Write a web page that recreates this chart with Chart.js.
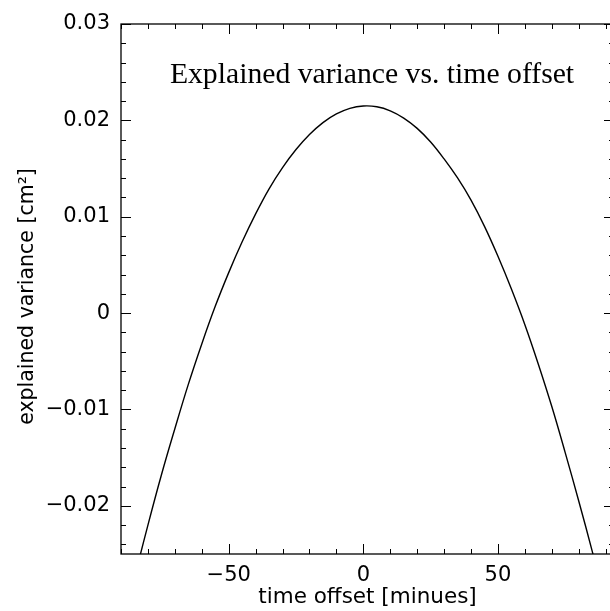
<!DOCTYPE html>
<html>
<head>
<meta charset="utf-8">
<script src="https://cdn.jsdelivr.net/npm/chart.js@4.4.0/dist/chart.umd.min.js"></script>
<style>
html, body { margin: 0; padding: 0; background: #fff; overflow: hidden; }
</style>
</head>
<body>
<canvas id="chart" width="615" height="611"></canvas>
<script>
// time offset [minutes] and explained variance [cm^2]
var offsets = [-90, -85, -80, -75, -70, -65, -60, -55, -50, -45, -40, -35, -30, -25, -20, -15, -10, -5,
               0, 5, 10, 15, 20, 25, 30, 35, 40, 45, 50, 55, 60, 65, 70, 75, 80, 85, 90];
var variance = [-0.0334, -0.0275, -0.0220, -0.0168, -0.0120, -0.0074, -0.0032, 0.0007, 0.0042, 0.0074,
                0.0103, 0.0129, 0.0151, 0.01697, 0.01853, 0.01977, 0.02067, 0.02125,
                0.02149, 0.02141, 0.02099, 0.02024, 0.01917, 0.01776, 0.0160, 0.01402, 0.01172, 0.0090,
                0.0059, 0.0025, -0.0012, -0.0053, -0.0097, -0.0145, -0.0195, -0.0247, -0.0302];

// ticks (all of them get a tick mark, only the majors get a label)
var xTicks = [-90, -80, -70, -60, -50, -40, -30, -20, -10, 0, 10, 20, 30, 40, 50, 60, 70, 80, 90];
var xMajor = [-50, 0, 50];
var xMajorText = ['\u221250', '0', '50'];
var yTicks = [-0.024, -0.022, -0.02, -0.018, -0.016, -0.014, -0.012, -0.01, -0.008, -0.006, -0.004, -0.002,
              0, 0.002, 0.004, 0.006, 0.008, 0.01, 0.012, 0.014, 0.016, 0.018, 0.02, 0.022, 0.024, 0.026, 0.028, 0.03];
var yMajor = [-0.02, -0.01, 0, 0.01, 0.02, 0.03];
var yMajorText = ['\u22120.02', '\u22120.01', '0', '0.01', '0.02', '0.03'];

var titleText = 'Explained variance vs. time offset';
var yTitleText = 'explained variance [cm\u00B2]';

// frame + inward ticks on all four sides, title inside the axes, y label
var frameTicks = {
  id: 'frameTicks',
  afterDatasetsDraw: function (chart) {
    var c = chart.ctx, a = chart.chartArea;
    var xs = chart.scales.x, ys = chart.scales.y;
    c.save();
    c.strokeStyle = '#000';
    c.lineWidth = 1;
    c.beginPath();
    xs.ticks.forEach(function (t) {
      var px = Math.round(xs.getPixelForValue(t.value)) + 0.5;
      var len = xMajor.indexOf(t.value) >= 0 ? 10 : 5;
      c.moveTo(px, a.bottom); c.lineTo(px, a.bottom - len);
      c.moveTo(px, a.top); c.lineTo(px, a.top + len);
    });
    ys.ticks.forEach(function (t) {
      var py = Math.round(ys.getPixelForValue(t.value)) + 0.5;
      var len = yMajor.indexOf(t.value) >= 0 ? 10 : 5;
      c.moveTo(a.left, py); c.lineTo(a.left + len, py);
      c.moveTo(a.right, py); c.lineTo(a.right - len, py);
    });
    c.stroke();
    c.lineWidth = 1.3;
    c.strokeRect(a.left, a.top, a.right - a.left, a.bottom - a.top);

    c.fillStyle = '#000';
    var size = 25;
    c.font = size + 'px "Liberation Serif", serif';
    size = size * 405 / c.measureText(titleText).width;
    c.font = size.toFixed(1) + 'px "Liberation Serif", serif';
    c.textAlign = 'center';
    c.textBaseline = 'alphabetic';
    c.fillText(titleText, 372, 83);

    c.translate(33, 296.5);
    c.rotate(-Math.PI / 2);
    c.font = '20.5px "DejaVu Sans"';
    c.fillText(yTitleText, 0, 0);
    c.restore();
  }
};

var ctx = document.getElementById('chart').getContext('2d');
var chart = new Chart(ctx, {
  type: 'line',
  data: {
    datasets: [{
      data: offsets.map(function (x, i) { return { x: x, y: variance[i] }; }),
      borderColor: '#000',
      borderWidth: 1.4,
      pointRadius: 0,
      tension: 0.4,
      fill: false
    }]
  },
  options: {
    responsive: false,
    animation: false,
    devicePixelRatio: 1,
    layout: { padding: { top: 24, right: 1, bottom: 0, left: 0 } },
    plugins: { legend: { display: false }, tooltip: { enabled: false } },
    scales: {
      x: {
        type: 'linear',
        min: -90,
        max: 93.1,
        afterBuildTicks: function (s) { s.ticks = xTicks.map(function (v) { return { value: v }; }); },
        afterFit: function (s) { s.height = 57; s.paddingLeft = 0; s.paddingRight = 0; },
        grid: { display: false, drawTicks: false },
        border: { display: false },
        ticks: {
          autoSkip: false,
          maxRotation: 0,
          padding: 9,
          color: '#000',
          font: { family: 'DejaVu Sans', size: 21 },
          callback: function (v) { var i = xMajor.indexOf(v); return i >= 0 ? xMajorText[i] : ''; }
        },
        title: {
          display: true,
          text: 'time offset [minues]',
          color: '#000',
          font: { family: 'DejaVu Sans', size: 21.5 },
          padding: { top: 0, bottom: 1 }
        }
      },
      y: {
        type: 'linear',
        min: -0.025,
        max: 0.03,
        afterBuildTicks: function (s) { s.ticks = yTicks.map(function (v) { return { value: v }; }); },
        afterFit: function (s) { s.width = 121; s.paddingTop = 0; s.paddingBottom = 0; },
        grid: { display: false, drawTicks: false },
        border: { display: false },
        ticks: {
          autoSkip: false,
          padding: 11,
          color: '#000',
          font: { family: 'DejaVu Sans', size: 21 },
          callback: function (v) { var i = yMajor.indexOf(v); return i >= 0 ? yMajorText[i] : ''; }
        },
        title: { display: false }
      }
    }
  },
  plugins: [frameTicks]
});
</script>
</body>
</html>
